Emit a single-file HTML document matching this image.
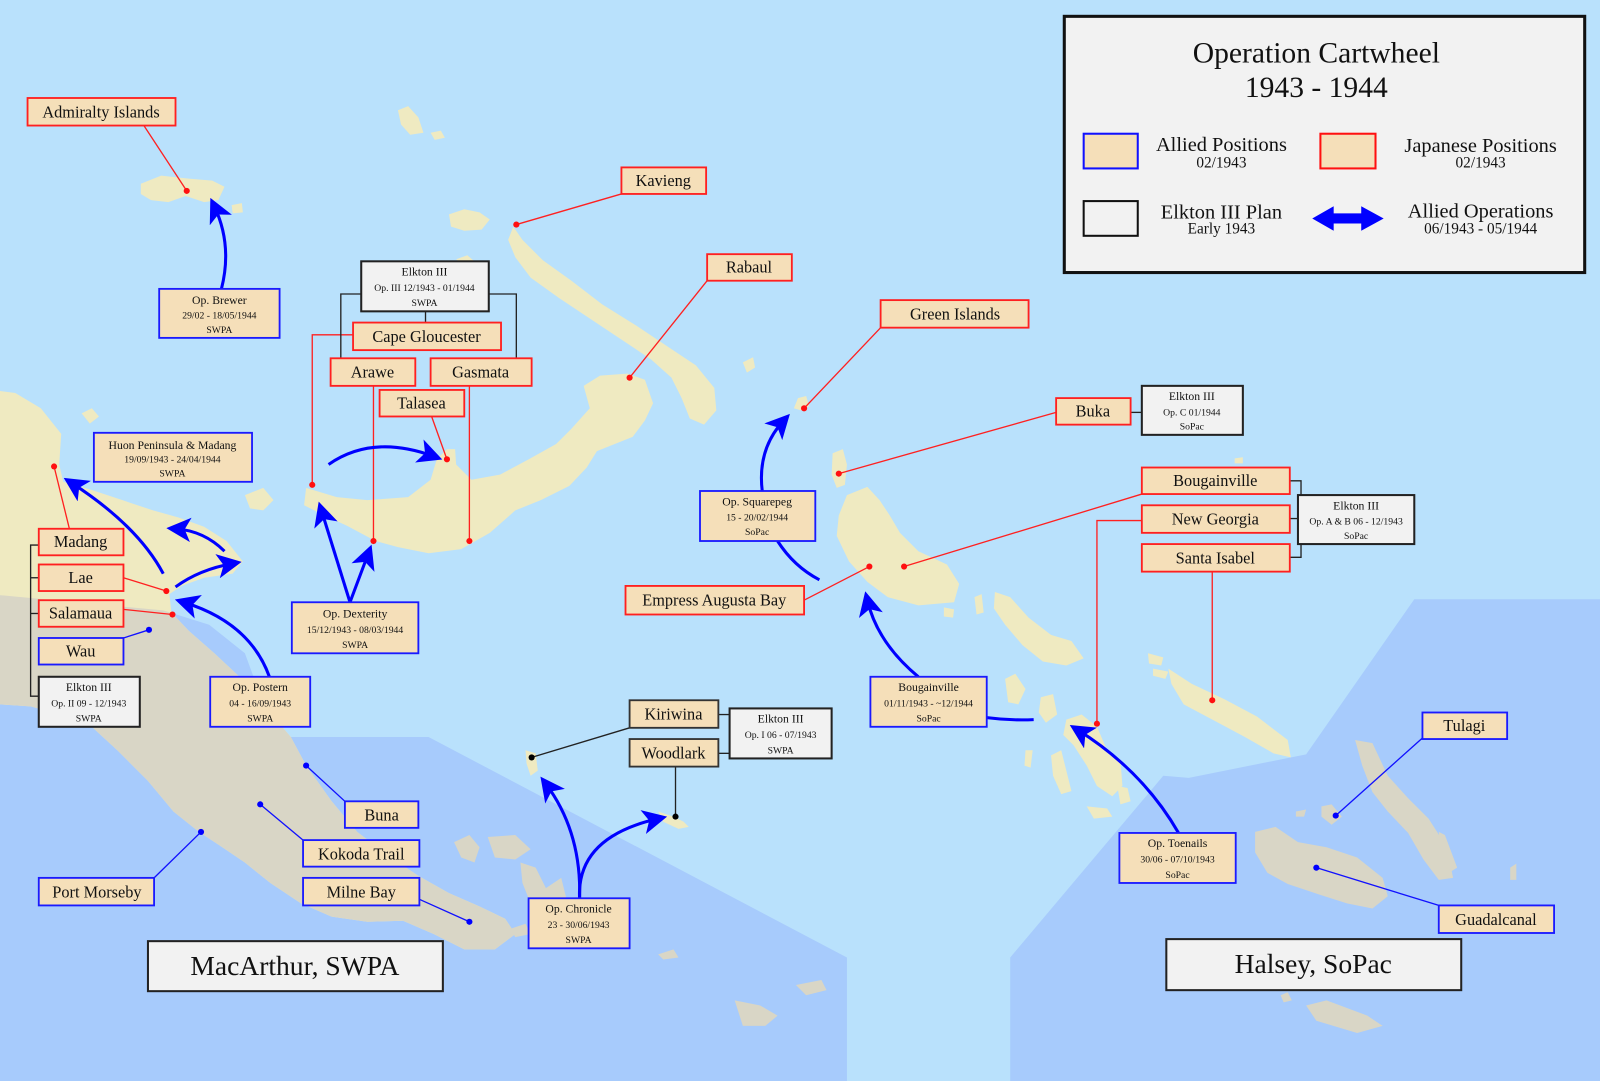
<!DOCTYPE html>
<html><head><meta charset="utf-8"><style>
html,body{margin:0;padding:0;background:#b9e1fc;}
svg{display:block}
text{font-family:"Liberation Serif",serif;fill:#111}
</style></head><body>
<svg width="1600" height="1081" viewBox="0 0 1568 1059" preserveAspectRatio="none" xmlns="http://www.w3.org/2000/svg">
<defs>
<marker id="ah" markerWidth="8" markerHeight="8" refX="5" refY="4" orient="auto" markerUnits="strokeWidth">
<path d="M0,0 L8,4 L0,8 L2,4 Z" fill="#0000ff"/>
</marker>
<clipPath id="grayclip"><polygon points="0,583 160,598 205,612 240,640 300,700 900,700 900,1059 0,1059"/></clipPath>
</defs>
<rect x="0" y="0" width="1568" height="1059" fill="#b9e1fc"/>
<!-- darker SWPA/SoPac zones -->
<polygon points="0,583 160,598 205,612 240,640 270,722 420,722 830,938 830,1059 0,1059" fill="#a7cbfc"/>
<polygon points="990,938 1140,760 1165,762 1280,739 1386,587 1568,587 1568,1059 990,1059" fill="#a7cbfc"/>

<!-- New Guinea -->
<g id="ng">
<polygon fill="#efeac1" points="0,383 15,385 40,400 60,425 58,455 62,472 90,480 120,490 150,500 175,507 200,516 222,530 238,550 228,562 200,566 178,574 166,582 168,600 185,618 210,640 240,668 262,695 285,722 300,750 325,785 350,815 380,838 410,858 440,875 470,888 495,900 505,915 485,930 455,930 425,915 395,902 360,903 325,898 295,885 265,865 240,845 215,828 195,815 170,795 145,765 115,735 90,712 60,700 30,692 0,690"/>
<polygon clip-path="url(#grayclip)" fill="#d9d6c6" points="0,383 15,385 40,400 60,425 58,455 62,472 90,480 120,490 150,500 175,507 200,516 222,530 238,550 228,562 200,566 178,574 166,582 168,600 185,618 210,640 240,668 262,695 285,722 300,750 325,785 350,815 380,838 410,858 440,875 470,888 495,900 505,915 485,930 455,930 425,915 395,902 360,903 325,898 295,885 265,865 240,845 215,828 195,815 170,795 145,765 115,735 90,712 60,700 30,692 0,690"/>
</g>
<!-- islands near NG -->
<polygon fill="#efeac1" points="80,405 90,400 97,408 88,415"/>
<polygon fill="#efeac1" points="240,485 258,478 268,490 258,500 245,498"/>
<!-- D'Entrecasteaux etc (gray) -->
<g fill="#d9d6c6">
<polygon points="445,825 460,818 470,830 465,845 452,840"/>
<polygon points="478,820 505,818 520,832 505,842 485,840"/>
<polygon points="510,845 525,850 535,870 550,860 555,880 540,890 520,885 512,865"/>
<polygon points="645,935 660,930 665,938 650,940"/>
<polygon points="720,980 745,985 762,995 750,1005 728,1005"/>
<polygon points="780,965 805,960 810,970 790,975"/>
<polygon points="500,910 515,905 520,915 505,918"/>
</g>
<!-- Trobriand/Woodlark -->
<polygon fill="#efeac1" points="515,735 525,738 527,755 520,760 516,748"/>
<polygon fill="#efeac1" points="645,795 660,800 670,805 675,810 665,812 650,805"/>

<!-- New Britain -->
<polygon fill="#efeac1" points="300,478 330,487 360,490 400,487 422,470 428,450 438,440 446,440 447,455 462,470 490,465 518,450 545,435 560,420 578,400 572,378 588,368 615,366 632,372 640,395 632,412 620,428 600,436 585,442 575,458 558,476 530,490 505,500 480,522 452,538 420,542 390,536 368,530 340,515 318,505 298,495"/>
<!-- New Ireland -->
<polygon fill="#efeac1" points="503,222 512,235 532,255 560,275 590,298 622,318 652,338 682,358 700,380 702,402 690,416 676,410 668,390 658,370 638,352 608,332 578,312 548,292 520,272 505,252 498,235"/>
<polygon fill="#efeac1" points="440,210 455,205 470,208 480,215 472,225 455,226 442,222"/>
<polygon fill="#efeac1" points="447,254 458,250 465,256 452,258"/>
<polygon fill="#efeac1" points="390,108 400,104 410,115 415,130 402,132 393,122"/>
<polygon fill="#efeac1" points="422,130 432,128 436,135 426,137"/>
<polygon fill="#efeac1" points="728,355 738,350 740,360 732,365"/>
<!-- Admiralty -->
<polygon fill="#efeac1" points="138,180 158,172 185,175 208,177 220,183 214,196 200,198 182,192 165,198 148,196 138,190"/>
<polygon fill="#efeac1" points="227,201 237,199 238,208 228,209"/>
<!-- Green Islands -->
<polygon fill="#efeac1" points="782,390 790,388 793,398 785,402 778,400"/>
<!-- Buka & Bougainville -->
<polygon fill="#efeac1" points="816,444 826,440 830,455 828,475 820,478 815,465"/>
<polygon fill="#efeac1" points="830,485 850,477 862,490 872,505 882,522 900,540 928,553 940,572 935,590 900,593 870,585 850,570 832,550 820,525 822,505"/>
<polygon fill="#efeac1" points="955,585 962,582 964,600 957,602"/>
<polygon fill="#efeac1" points="925,595 935,597 934,605 925,604"/>
<!-- Choiseul -->
<polygon fill="#efeac1" points="975,580 990,585 1008,605 1030,622 1050,628 1062,645 1045,652 1022,648 1002,632 985,612 974,596"/>
<!-- Santa Isabel -->
<polygon fill="#efeac1" points="1145,655 1168,670 1200,685 1232,702 1262,725 1265,742 1248,738 1220,722 1190,706 1160,690 1148,670"/>
<polygon fill="#efeac1" points="1125,640 1140,644 1138,652 1126,650"/>
<polygon fill="#efeac1" points="1130,655 1145,658 1142,665 1130,662"/>
<polygon fill="#efeac1" points="1210,449 1218,448 1218,454 1210,454"/>
<!-- New Georgia group -->
<g fill="#efeac1">
<polygon points="985,665 995,660 1005,675 998,690 988,688"/>
<polygon points="1020,683 1032,680 1036,700 1025,708 1018,698"/>
<polygon points="1045,705 1060,700 1075,712 1085,735 1098,745 1100,770 1090,780 1075,770 1065,750 1052,730 1042,720"/>
<polygon points="1030,740 1040,735 1045,755 1050,775 1040,778 1032,760"/>
<polygon points="1065,790 1085,792 1090,800 1072,802"/>
<polygon points="1095,770 1105,772 1108,785 1098,788"/>
<polygon points="1005,735 1012,735 1010,752 1004,750"/>
</g>
<!-- Solomons gray -->
<g fill="#d9d6c6">
<polygon points="1230,815 1250,810 1272,825 1300,830 1330,840 1355,860 1360,878 1345,890 1320,885 1292,876 1262,866 1242,855 1230,835"/>
<polygon points="1328,725 1345,728 1360,760 1380,782 1400,802 1418,830 1424,860 1410,862 1395,842 1380,816 1360,795 1345,776 1335,750"/>
<polygon points="1295,790 1305,788 1315,800 1305,808 1295,800"/>
<polygon points="1410,815 1416,818 1428,850 1420,855 1412,835"/>
<polygon points="1270,795 1280,793 1278,800 1270,800"/>
<polygon points="1280,985 1300,980 1340,995 1355,1005 1330,1012 1290,1000"/>
<polygon points="1255,975 1262,972 1266,980 1258,982"/>
<polygon points="1480,850 1486,846 1486,862 1480,862"/>
</g>

<!-- connector lines -->
<g stroke="#ff2020" stroke-width="1.3" fill="none">
<line x1="141" y1="123" x2="183" y2="187"/>
<line x1="609" y1="190" x2="506" y2="220"/>
<line x1="693" y1="275" x2="617" y2="370"/>
<line x1="863" y1="321" x2="788" y2="400"/>
<line x1="1035" y1="404" x2="822" y2="464"/>
<line x1="1119" y1="484" x2="886" y2="555"/>
<polyline points="1119,510 1075,510 1075,709"/>
<line x1="1188" y1="560" x2="1188" y2="686"/>
<line x1="788" y1="588" x2="852" y2="555"/>
<polyline points="346,328 306,328 306,475"/>
<line x1="366" y1="378" x2="366" y2="530"/>
<line x1="460" y1="378" x2="460" y2="530"/>
<line x1="423" y1="408" x2="438" y2="450"/>
<line x1="68" y1="518" x2="53" y2="457"/>
<line x1="121" y1="566" x2="163" y2="579"/>
<line x1="121" y1="597" x2="169" y2="602"/>
</g>
<g fill="#ff1010">
<circle cx="183" cy="187" r="3"/><circle cx="506" cy="220" r="3"/><circle cx="617" cy="370" r="3"/>
<circle cx="788" cy="400" r="3"/><circle cx="822" cy="464" r="3"/><circle cx="886" cy="555" r="3"/>
<circle cx="1075" cy="709" r="3"/><circle cx="1188" cy="686" r="3"/><circle cx="852" cy="555" r="3"/>
<circle cx="306" cy="475" r="3"/><circle cx="366" cy="530" r="3"/><circle cx="460" cy="530" r="3"/>
<circle cx="438" cy="450" r="3"/><circle cx="53" cy="457" r="3"/><circle cx="163" cy="579" r="3"/><circle cx="169" cy="602" r="3"/>
</g>
<g stroke="#1010ff" stroke-width="1.3" fill="none">
<line x1="121" y1="625" x2="146" y2="617"/>
<line x1="338" y1="785" x2="300" y2="750"/>
<line x1="297" y1="823" x2="255" y2="788"/>
<line x1="411" y1="881" x2="460" y2="903"/>
<line x1="151" y1="860" x2="197" y2="815"/>
<line x1="1394" y1="723" x2="1309" y2="799"/>
<line x1="1410" y1="887" x2="1290" y2="850"/>
</g>
<g fill="#0000ff">
<circle cx="146" cy="617" r="3"/><circle cx="300" cy="750" r="3"/><circle cx="255" cy="788" r="3"/>
<circle cx="460" cy="903" r="3"/><circle cx="197" cy="815" r="3"/><circle cx="1309" cy="799" r="3"/><circle cx="1290" cy="850" r="3"/>
</g>
<g stroke="#222" stroke-width="1.3" fill="none">
<line x1="617" y1="713" x2="521" y2="742"/>
<line x1="662" y1="751" x2="662" y2="800"/>
<line x1="704" y1="700" x2="715" y2="700"/><line x1="704" y1="738" x2="715" y2="738"/>
<polyline points="354,288 334,288 334,351"/><polyline points="479,288 506,288 506,351"/>
<line x1="417" y1="305" x2="417" y2="316"/>
<line x1="1108" y1="404" x2="1119" y2="404"/>
<polyline points="1264,471 1275,471 1275,485"/><line x1="1264" y1="508" x2="1272" y2="508"/><polyline points="1264,546 1275,546 1275,533"/>
<polyline points="38,534 30,534 30,682 38,682"/><line x1="30" y1="566" x2="38" y2="566"/><line x1="30" y1="601" x2="38" y2="601"/>
</g>
<circle cx="521" cy="742" r="3" fill="#000"/><circle cx="662" cy="800" r="3" fill="#000"/>

<!-- arrows -->
<g stroke="#0000ff" stroke-width="3" fill="none" marker-end="url(#ah)">
<path d="M217,283 Q228,240 210,202"/>
<path d="M343,590 L315,500"/>
<path d="M343,590 L361,542"/>
<path d="M264,663 Q245,610 180,590"/>
<path d="M160,562 Q135,515 70,473"/>
<path d="M172,575 Q195,558 228,552"/>
<path d="M220,540 Q200,520 172,518"/>
<path d="M322,455 Q365,425 425,447"/>
<path d="M747,481 Q742,440 768,412"/>
<path d="M900,663 Q860,630 850,588"/>
<path d="M1155,816 Q1120,755 1056,715"/>
<path d="M568,880 Q570,815 535,768"/>
<path d="M568,880 Q565,820 645,802"/>
</g>
<g stroke="#0000ff" stroke-width="3" fill="none">
<path d="M762,530 Q778,555 803,568"/>
<path d="M967,703 Q990,706 1013,705"/>
</g>

<!-- boxes -->
<g font-size="16" text-anchor="middle">
<g fill="#f5dfb9" stroke="#ff2020" stroke-width="1.8">
<rect x="27" y="96" width="145" height="27"/><rect x="609" y="164" width="83" height="26"/>
<rect x="693" y="249" width="83" height="26"/><rect x="863" y="294" width="145" height="27"/>
<rect x="1035" y="390" width="73" height="26"/><rect x="1119" y="458" width="145" height="26"/>
<rect x="1119" y="495" width="145" height="27"/><rect x="1119" y="533" width="145" height="27"/>
<rect x="613" y="574" width="175" height="28"/><rect x="346" y="316" width="145" height="27"/>
<rect x="324" y="351" width="83" height="27"/><rect x="422" y="351" width="99" height="27"/>
<rect x="372" y="382" width="83" height="26"/><rect x="38" y="518" width="83" height="26"/>
<rect x="38" y="553" width="83" height="26"/><rect x="38" y="588" width="83" height="26"/>
</g>
<g fill="#f5dfb9" stroke="#1a1aff" stroke-width="1.8">
<rect x="38" y="625" width="83" height="26"/><rect x="338" y="785" width="72" height="26"/>
<rect x="297" y="823" width="114" height="26"/><rect x="297" y="860" width="114" height="27"/>
<rect x="38" y="860" width="113" height="27"/><rect x="1394" y="698" width="83" height="26"/>
<rect x="1410" y="887" width="113" height="27"/>
<rect x="92" y="424" width="155" height="48"/><rect x="156" y="283" width="118" height="48"/>
<rect x="286" y="590" width="124" height="50"/><rect x="206" y="663" width="98" height="49"/>
<rect x="686" y="481" width="113" height="49"/><rect x="853" y="663" width="114" height="49"/>
<rect x="1097" y="816" width="114" height="49"/><rect x="518" y="880" width="99" height="49"/>
</g>
<g fill="#f5dfb9" stroke="#333" stroke-width="1.8">
<rect x="617" y="686" width="87" height="27"/><rect x="617" y="724" width="87" height="27"/>
</g>
<g fill="#f2f2f2" stroke="#222" stroke-width="2">
<rect x="354" y="256" width="125" height="49"/><rect x="1119" y="378" width="99" height="48"/>
<rect x="1272" y="485" width="114" height="48"/><rect x="38" y="663" width="99" height="49"/>
<rect x="715" y="694" width="100" height="49"/>
<rect x="145" y="922" width="289" height="49"/><rect x="1143" y="920" width="289" height="50"/>
</g>
<rect x="1043" y="16" width="510" height="251" fill="#f2f2f2" stroke="#111" stroke-width="3"/>

<text x="99" y="115">Admiralty Islands</text><text x="650" y="182">Kavieng</text>
<text x="734" y="267">Rabaul</text><text x="936" y="313">Green Islands</text>
<text x="1071" y="408">Buka</text><text x="1191" y="476">Bougainville</text>
<text x="1191" y="514">New Georgia</text><text x="1191" y="552">Santa Isabel</text>
<text x="700" y="593">Empress Augusta Bay</text><text x="418" y="335">Cape Gloucester</text>
<text x="365" y="370">Arawe</text><text x="471" y="370">Gasmata</text>
<text x="413" y="400">Talasea</text><text x="79" y="536">Madang</text>
<text x="79" y="571">Lae</text><text x="79" y="606">Salamaua</text>
<text x="79" y="643">Wau</text><text x="374" y="804">Buna</text>
<text x="354" y="842">Kokoda Trail</text><text x="354" y="879">Milne Bay</text>
<text x="95" y="879">Port Morseby</text><text x="1435" y="716">Tulagi</text>
<text x="1466" y="906">Guadalcanal</text>
<text x="660" y="705">Kiriwina</text><text x="660" y="743">Woodlark</text>
<text x="289" y="955" font-size="27">MacArthur, SWPA</text>
<text x="1287" y="953" font-size="27">Halsey, SoPac</text>
</g>
<g text-anchor="middle">
<g font-size="11.5">
<text x="169" y="440">Huon Peninsula &amp; Madang</text><text x="215" y="298">Op. Brewer</text>
<text x="348" y="605">Op. Dexterity</text><text x="255" y="677">Op. Postern</text>
<text x="742" y="495">Op. Squarepeg</text><text x="910" y="677">Bougainville</text>
<text x="1154" y="830">Op. Toenails</text><text x="567" y="894">Op. Chronicle</text>
<text x="416" y="270">Elkton III</text><text x="1168" y="392">Elkton III</text>
<text x="1329" y="499">Elkton III</text><text x="87" y="677">Elkton III</text>
<text x="765" y="708">Elkton III</text>
</g>
<g font-size="9.5">
<text x="169" y="453">19/09/1943 - 24/04/1944</text><text x="169" y="467">SWPA</text>
<text x="215" y="312">29/02 - 18/05/1944</text><text x="215" y="326">SWPA</text>
<text x="348" y="620">15/12/1943 - 08/03/1944</text><text x="348" y="635">SWPA</text>
<text x="255" y="692">04 - 16/09/1943</text><text x="255" y="707">SWPA</text>
<text x="742" y="510">15 - 20/02/1944</text><text x="742" y="524">SoPac</text>
<text x="910" y="692">01/11/1943 - ~12/1944</text><text x="910" y="707">SoPac</text>
<text x="1154" y="845">30/06 - 07/10/1943</text><text x="1154" y="860">SoPac</text>
<text x="567" y="909">23 - 30/06/1943</text><text x="567" y="924">SWPA</text>
<text x="416" y="285">Op. III 12/1943 - 01/1944</text><text x="416" y="300">SWPA</text>
<text x="1168" y="407">Op. C 01/1944</text><text x="1168" y="421">SoPac</text>
<text x="1329" y="514">Op. A &amp; B 06 - 12/1943</text><text x="1329" y="528">SoPac</text>
<text x="87" y="692">Op. II 09 - 12/1943</text><text x="87" y="707">SWPA</text>
<text x="765" y="723">Op. I 06 - 07/1943</text><text x="765" y="738">SWPA</text>
</g>
</g>
<!-- legend -->
<g text-anchor="middle">
<text x="1290" y="61" font-size="29">Operation Cartwheel</text>
<text x="1290" y="95" font-size="29">1943 - 1944</text>
<rect x="1062" y="131" width="53" height="34" fill="#f5dfb9" stroke="#1010ff" stroke-width="2"/>
<rect x="1294" y="131" width="54" height="34" fill="#f5dfb9" stroke="#ff1010" stroke-width="2"/>
<rect x="1062" y="197" width="53" height="34" fill="#f2f2f2" stroke="#111" stroke-width="2"/>
<polygon points="1286,214 1307,202 1307,209 1334,209 1334,202 1356,214 1334,226 1334,219 1307,219 1307,226" fill="#0000ff"/>
<text x="1197" y="148" font-size="20">Allied Positions</text><text x="1197" y="164" font-size="15">02/1943</text>
<text x="1451" y="149" font-size="20">Japanese Positions</text><text x="1451" y="164" font-size="15">02/1943</text>
<text x="1197" y="214" font-size="20">Elkton III Plan</text><text x="1197" y="229" font-size="15">Early 1943</text>
<text x="1451" y="213" font-size="20">Allied Operations</text><text x="1451" y="229" font-size="15">06/1943 - 05/1944</text>
</g>
</svg>
</body></html>
